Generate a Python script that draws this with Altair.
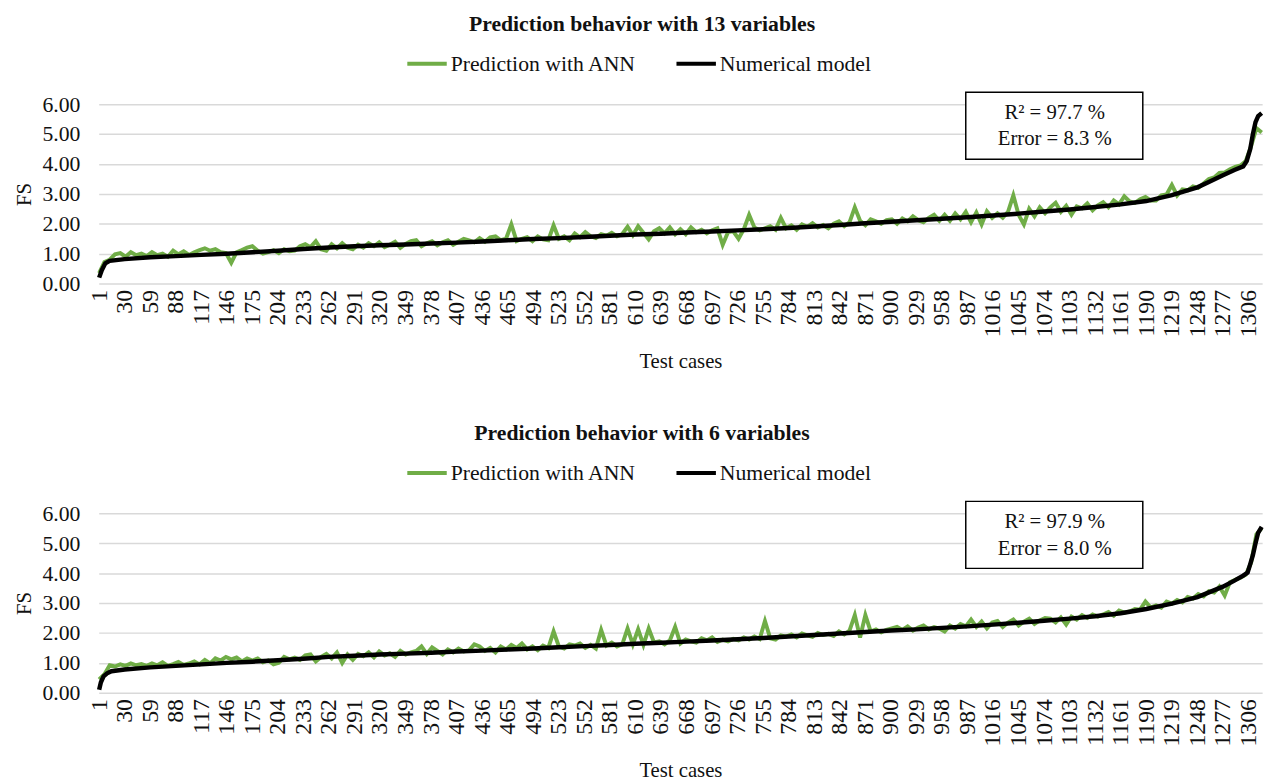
import altair as alt
import pandas as pd

TITLES = ["Prediction behavior with 13 variables", "Prediction behavior with 6 variables"]
SERIES = ["Prediction with ANN", "Numerical model"]
COLORS = ["#70AD47", "#000000"]
STATS_TOP = ["R\u00b2 = 97.7 %", "Error = 8.3 %"]
STATS_BOTTOM = ["R\u00b2 = 97.9 %", "Error = 8.0 %"]

TICKS = [1, 30, 59, 88, 117, 146, 175, 204, 233, 262, 291, 320, 349, 378, 407, 436,
         465, 494, 523, 552, 581, 610, 639, 668, 697, 726, 755, 784, 813, 842, 871,
         900, 929, 958, 987, 1016, 1045, 1074, 1103, 1132, 1161, 1190, 1219, 1248,
         1277, 1306]
Y_TICKS = [0, 1, 2, 3, 4, 5, 6]
N_CASES = 1321
ANN_STEP = 6  # ANN prediction read every 6th test case

# Numerical model (black curve), top panel
MODEL_TOP_CASES = [1, 4, 8, 13, 30, 59, 88, 117, 146, 175, 204, 233, 262, 291, 320, 349,
                   378, 407, 436, 465, 494, 523, 552, 581, 610, 639, 668, 697, 726, 755,
                   784, 813, 842, 871, 900, 929, 958, 987, 1016, 1045, 1074, 1103, 1132,
                   1161, 1190, 1219, 1248, 1261, 1277, 1290, 1300, 1304, 1308, 1311, 1314,
                   1317, 1321]
MODEL_TOP_VALUES = [0.20, 0.45, 0.68, 0.76, 0.82, 0.88, 0.92, 0.96, 1.00, 1.05, 1.10, 1.16,
                    1.21, 1.25, 1.28, 1.31, 1.34, 1.37, 1.41, 1.45, 1.49, 1.52, 1.56, 1.60,
                    1.64, 1.67, 1.71, 1.74, 1.78, 1.82, 1.86, 1.91, 1.96, 2.02, 2.07, 2.12,
                    2.17, 2.22, 2.28, 2.34, 2.41, 2.48, 2.56, 2.65, 2.76, 2.96, 3.22, 3.40,
                    3.62, 3.80, 3.92, 4.10, 4.50, 5.00, 5.40, 5.60, 5.70]

# Numerical model (black curve), bottom panel
MODEL_BOT_CASES = [1, 3, 6, 10, 15, 30, 59, 88, 117, 146, 175, 204, 233, 262, 291, 320,
                   349, 378, 407, 436, 465, 494, 523, 552, 581, 610, 639, 668, 697, 726,
                   755, 784, 813, 842, 871, 900, 929, 958, 987, 1016, 1045, 1074, 1103,
                   1132, 1161, 1190, 1219, 1248, 1277, 1290, 1300, 1305, 1308, 1311, 1314,
                   1317, 1321]
MODEL_BOT_VALUES = [0.10, 0.35, 0.55, 0.65, 0.72, 0.78, 0.85, 0.90, 0.95, 1.00, 1.04, 1.09,
                    1.14, 1.20, 1.24, 1.28, 1.31, 1.34, 1.38, 1.41, 1.45, 1.48, 1.52, 1.56,
                    1.60, 1.64, 1.67, 1.71, 1.75, 1.79, 1.83, 1.88, 1.93, 1.98, 2.03, 2.08,
                    2.12, 2.17, 2.22, 2.28, 2.34, 2.41, 2.48, 2.56, 2.66, 2.80, 2.98, 3.20,
                    3.55, 3.75, 3.92, 4.02, 4.30, 4.60, 5.00, 5.35, 5.55]

# ANN prediction (green), top panel, cases 1, 7, 13, ...
ANN_TOP = [
    0.35, 0.72, 0.80, 0.98, 1.02, 0.90, 1.05, 0.95, 1.00, 0.92,
    1.05, 0.95, 1.00, 0.90, 1.10, 0.98, 1.08, 0.96, 1.05, 1.12,
    1.18, 1.10, 1.15, 1.05, 1.02, 0.70, 1.05, 1.12, 1.20, 1.25,
    1.10, 1.00, 1.05, 1.12, 1.02, 1.15, 1.08, 1.10, 1.25, 1.32,
    1.22, 1.42, 1.15, 1.10, 1.32, 1.18, 1.35, 1.20, 1.15, 1.30,
    1.20, 1.35, 1.25, 1.38, 1.22, 1.30, 1.40, 1.20, 1.33, 1.42,
    1.45, 1.25, 1.35, 1.42, 1.28, 1.38, 1.45, 1.30, 1.40, 1.50,
    1.45, 1.38, 1.52, 1.40, 1.55, 1.58, 1.45, 1.50, 1.98, 1.42,
    1.50, 1.55, 1.42, 1.58, 1.48, 1.45, 1.95, 1.50, 1.58, 1.45,
    1.68, 1.55, 1.72, 1.58, 1.52, 1.65, 1.60, 1.70, 1.58, 1.66,
    1.90, 1.62, 1.92, 1.70, 1.48, 1.75, 1.85, 1.68, 1.88, 1.65,
    1.82, 1.65, 1.88, 1.72, 1.80, 1.68, 1.78, 1.85, 1.30, 1.72,
    1.75, 1.50, 1.82, 2.30, 1.88, 1.78, 1.85, 1.92, 1.80, 2.20,
    1.85, 1.95, 1.80, 1.98, 1.90, 2.02, 1.88, 1.96, 1.85, 2.00,
    2.08, 1.92, 2.05, 2.55, 2.10, 1.95, 2.15, 2.08, 2.00, 2.12,
    2.15, 2.00, 2.18, 2.08, 2.25, 2.12, 2.05, 2.20, 2.30, 2.10,
    2.30, 2.10, 2.35, 2.15, 2.40, 2.05, 2.38, 1.98, 2.42, 2.20,
    2.35, 2.20, 2.40, 2.95, 2.30, 1.98, 2.50, 2.25, 2.55, 2.35,
    2.55, 2.70, 2.40, 2.60, 2.30, 2.58, 2.52, 2.68, 2.45, 2.62,
    2.72, 2.55, 2.78, 2.65, 2.92, 2.75, 2.70, 2.82, 2.90, 2.78,
    2.78, 2.95, 2.98, 3.30, 2.95, 3.15, 3.12, 3.25, 3.20, 3.35,
    3.50, 3.55, 3.70, 3.72, 3.82, 3.90, 3.95, 4.10, 4.60, 5.20,
    5.05,
]

# ANN prediction (green), bottom panel, cases 1, 7, 13, ...
ANN_BOT = [
    0.45, 0.62, 0.92, 0.88, 0.95, 0.90, 0.98, 0.92, 0.96, 0.90,
    0.98, 0.92, 1.02, 0.90, 0.96, 1.03, 0.93, 0.98, 1.05, 0.95,
    1.10, 0.98, 1.15, 1.08, 1.20, 1.12, 1.18, 1.05, 1.15, 1.08,
    1.15, 1.02, 1.08, 0.95, 1.00, 1.20, 1.12, 1.18, 1.10, 1.25,
    1.28, 1.05, 1.20, 1.30, 1.15, 1.35, 1.00, 1.28, 1.10, 1.30,
    1.22, 1.35, 1.18, 1.38, 1.25, 1.32, 1.20, 1.40, 1.28, 1.35,
    1.40, 1.55, 1.30, 1.52, 1.40, 1.28, 1.45, 1.35, 1.48, 1.38,
    1.42, 1.62, 1.55, 1.40, 1.50, 1.35, 1.55, 1.45, 1.60, 1.50,
    1.65, 1.45, 1.55, 1.42, 1.58, 1.50, 2.05, 1.55, 1.48, 1.62,
    1.58, 1.65, 1.50, 1.60, 1.48, 2.10, 1.58, 1.68, 1.55, 1.62,
    2.15, 1.62, 2.12, 1.60, 2.15, 1.68, 1.72, 1.62, 1.75, 2.20,
    1.65, 1.78, 1.72, 1.68, 1.82, 1.75, 1.85, 1.70, 1.78, 1.72,
    1.80, 1.75, 1.85, 1.78, 1.88, 1.80, 2.40, 1.82, 1.78, 1.92,
    1.88, 1.95, 1.85, 1.98, 1.92, 1.87, 2.00, 1.93, 1.97, 1.90,
    2.05, 1.95, 2.08, 2.60, 1.85, 2.60, 2.05, 2.12, 2.02, 2.10,
    2.15, 2.20, 2.10, 2.22, 2.08, 2.18, 2.25, 2.12, 2.20, 2.15,
    2.05, 2.25, 2.15, 2.30, 2.22, 2.45, 2.20, 2.38, 2.15, 2.35,
    2.40, 2.20, 2.35, 2.45, 2.25, 2.38, 2.48, 2.30, 2.42, 2.50,
    2.48, 2.35, 2.52, 2.28, 2.55, 2.45, 2.60, 2.50, 2.62, 2.55,
    2.62, 2.70, 2.58, 2.75, 2.68, 2.72, 2.80, 2.78, 3.05, 2.85,
    2.92, 2.85, 3.05, 2.98, 3.10, 3.02, 3.20, 3.15, 3.30, 3.22,
    3.40, 3.35, 3.55, 3.25, 3.70, 3.78, 3.85, 3.95, 4.35, 5.30,
    5.50,
]

# Annotation box placement in data coordinates (case, FS)
BOX_CASES = (985, 1186)
BOX_FS = (4.16, 6.40)
TEXT_CASE = 1086
TEXT_FS = [5.71, 4.82]

FONT = "Liberation Serif"
TXT = "#111111"
PLOT_W = 1180
PLOT_H = 182


def panel(title, m_cases, m_vals, ann, stats):
    ann_df = pd.DataFrame({
        "case": [1 + ANN_STEP * i for i in range(len(ann))],
        "FS": ann,
        "series": SERIES[0],
    })
    mod_df = pd.DataFrame({"case": m_cases, "FS": m_vals, "series": SERIES[1]})

    x = alt.X(
        "case:Q",
        scale=alt.Scale(domain=[0.5, N_CASES + 0.5], nice=False, zero=False),
        axis=alt.Axis(values=TICKS, labelAngle=270, title="Test cases", format="d",
                      grid=False, domain=False, ticks=False, labelPadding=6,
                      titlePadding=14, labelFontSize=24, labelOverlap=False,
                      labelFlush=False, labelBound=False),
    )
    y = alt.Y(
        "FS:Q",
        scale=alt.Scale(domain=[0, 6], nice=False),
        axis=alt.Axis(values=Y_TICKS, format=".2f", title="FS",
                      grid=True, domain=False, ticks=False, labelPadding=19,
                      titlePadding=8, labelOverlap=False, labelFlush=False,
                      labelFontSize=22),
    )
    color = alt.Color(
        "series:N",
        scale=alt.Scale(domain=SERIES, range=COLORS),
        legend=alt.Legend(title=None, orient="none", legendX=311, legendY=-63,
                          direction="horizontal", symbolType="stroke",
                          symbolStrokeWidth=4, symbolSize=1600, labelFontSize=22,
                          columnPadding=32, labelOffset=2, labelLimit=400),
    )

    ann_line = alt.Chart(ann_df).mark_line(strokeWidth=4).encode(x=x, y=y, color=color)
    mod_line = alt.Chart(mod_df).mark_line(strokeWidth=4.5).encode(x=x, y=y, color=color)

    box_df = pd.DataFrame({"case": [BOX_CASES[0]], "case_end": [BOX_CASES[1]],
                           "FS": [BOX_FS[0]], "FS_end": [BOX_FS[1]]})
    box = alt.Chart(box_df).mark_rect(fill="white", stroke="black", strokeWidth=1.5).encode(
        x=x, x2="case_end:Q", y=y, y2="FS_end:Q")

    txt_df = pd.DataFrame({"case": [TEXT_CASE] * 2, "FS": TEXT_FS, "label": stats})
    txt = alt.Chart(txt_df).mark_text(font=FONT, fontSize=21, color=TXT).encode(
        x=x, y=y, text="label:N")

    return alt.layer(ann_line, mod_line, box, txt).properties(
        width=PLOT_W, height=PLOT_H,
        title=alt.TitleParams(title, font=FONT, fontSize=22, fontWeight="bold",
                              anchor="middle", frame="bounds", offset=6, color=TXT),
    )


top = panel(TITLES[0], MODEL_TOP_CASES, MODEL_TOP_VALUES, ANN_TOP, STATS_TOP)
bottom = panel(TITLES[1], MODEL_BOT_CASES, MODEL_BOT_VALUES, ANN_BOT, STATS_BOTTOM)

chart = alt.vconcat(top, bottom, spacing=52).resolve_scale(
    color="independent"
).resolve_legend(color="independent").properties(
    padding={"left": 5, "right": 0, "top": 0, "bottom": 0}
).configure_view(stroke=None).configure_axis(
    labelFont=FONT, titleFont=FONT, labelFontSize=21, titleFontSize=21,
    labelColor=TXT, titleColor=TXT, titleFontWeight="normal",
    gridColor="#d9d9d9", gridWidth=1.5, labelOverlap=False,
).configure_legend(labelFont=FONT, labelColor=TXT)

chart.save("out.html", embed_options={"renderer": "svg", "actions": False})
